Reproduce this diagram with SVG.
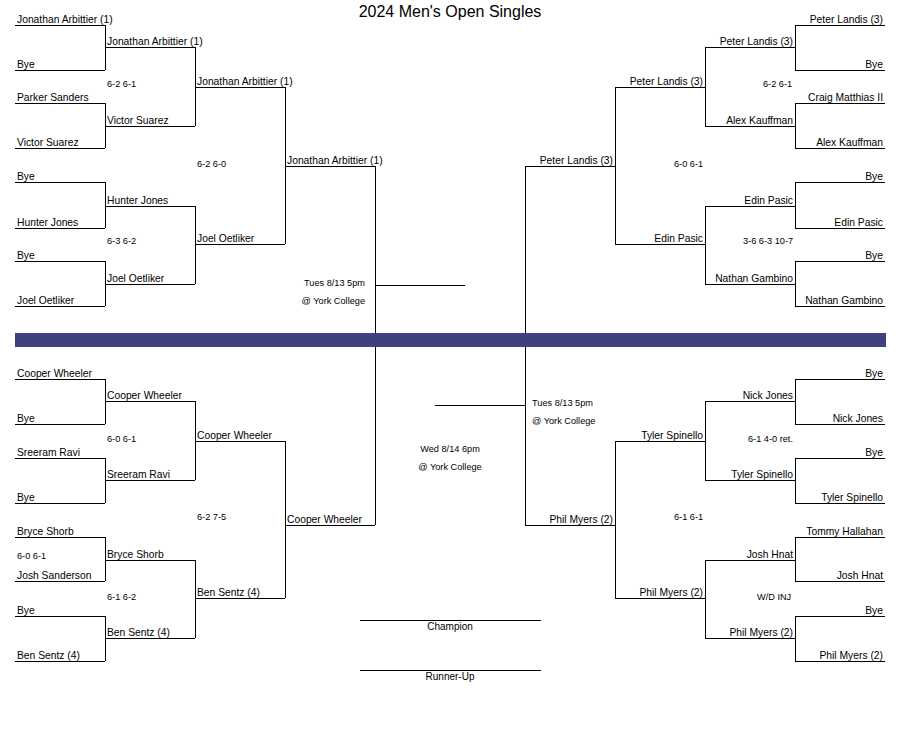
<svg xmlns="http://www.w3.org/2000/svg" width="900" height="750" viewBox="0 0 900 750">
<style>
  .bg{fill:#ffffff}
  .ln{stroke:#000;stroke-width:1;fill:none;shape-rendering:crispEdges}
  .nm{font-family:"Liberation Sans",Arial,sans-serif;font-size:10.3px;fill:#000}
  .r{text-anchor:end}
  .sc{font-family:"Liberation Sans",Arial,sans-serif;font-size:9.2px;fill:#000}
  .mid{text-anchor:middle}
  .title{font-family:"Liberation Sans",Arial,sans-serif;font-size:16px;fill:#000;text-anchor:middle}
  .band{fill:#404080}
</style>
<rect class="bg" x="0" y="0" width="900" height="750"/>
<text class="title" x="450" y="16.5">2024 Men's Open Singles</text>

<g id="connectors">
  <path class="ln" d="M105 25V70M105 103V148M105 182V228M105 261V306M105 379V424M105 458V503M105 537V581M105 616V661"/>
  <path class="ln" d="M195 47V126M195 206V284M195 401V480M195 560V638"/>
  <path class="ln" d="M285 87V244M285 441V598"/>
  <path class="ln" d="M375 166V525"/>
  <path class="ln" d="M795 25V70M795 103V148M795 182V228M795 261V306M795 379V424M795 458V503M795 537V581M795 616V661"/>
  <path class="ln" d="M705 47V126M705 206V284M705 401V480M705 560V638"/>
  <path class="ln" d="M615 87V244M615 441V598"/>
  <path class="ln" d="M525 166V525"/>
  <path class="ln" d="M375 285H465"/>
  <path class="ln" d="M435 405H525"/>
</g>

<!-- Left top -->
<g id="L1-1"><path class="ln" d="M15 25H105"/><text class="nm" x="17" y="22.5">Jonathan Arbittier (1)</text></g>
<g id="L1-2"><path class="ln" d="M15 70H105"/><text class="nm" x="17" y="67.5">Bye</text></g>
<g id="L1-3"><path class="ln" d="M15 103H105"/><text class="nm" x="17" y="100.5">Parker Sanders</text></g>
<g id="L1-4"><path class="ln" d="M15 148H105"/><text class="nm" x="17" y="145.5">Victor Suarez</text></g>
<g id="L1-5"><path class="ln" d="M15 182H105"/><text class="nm" x="17" y="179.5">Bye</text></g>
<g id="L1-6"><path class="ln" d="M15 228H105"/><text class="nm" x="17" y="225.5">Hunter Jones</text></g>
<g id="L1-7"><path class="ln" d="M15 261H105"/><text class="nm" x="17" y="258.5">Bye</text></g>
<g id="L1-8"><path class="ln" d="M15 306H105"/><text class="nm" x="17" y="303.5">Joel Oetliker</text></g>
<g id="L2-1"><path class="ln" d="M105 47H195"/><text class="nm" x="107" y="44.5">Jonathan Arbittier (1)</text></g>
<g id="L2-2"><path class="ln" d="M105 126H195"/><text class="nm" x="107" y="123.5">Victor Suarez</text></g>
<g id="L2-3"><path class="ln" d="M105 206H195"/><text class="nm" x="107" y="203.5">Hunter Jones</text></g>
<g id="L2-4"><path class="ln" d="M105 284H195"/><text class="nm" x="107" y="281.5">Joel Oetliker</text></g>
<g id="L3-1"><path class="ln" d="M195 87H285"/><text class="nm" x="197" y="84.5">Jonathan Arbittier (1)</text></g>
<g id="L3-2"><path class="ln" d="M195 244H285"/><text class="nm" x="197" y="241.5">Joel Oetliker</text></g>
<g id="L4-1"><path class="ln" d="M285 166H375"/><text class="nm" x="287" y="163.5">Jonathan Arbittier (1)</text></g>

<!-- Left bottom -->
<g id="L1-9"><path class="ln" d="M15 379H105"/><text class="nm" x="17" y="376.5">Cooper Wheeler</text></g>
<g id="L1-10"><path class="ln" d="M15 424H105"/><text class="nm" x="17" y="421.5">Bye</text></g>
<g id="L1-11"><path class="ln" d="M15 458H105"/><text class="nm" x="17" y="455.5">Sreeram Ravi</text></g>
<g id="L1-12"><path class="ln" d="M15 503H105"/><text class="nm" x="17" y="500.5">Bye</text></g>
<g id="L1-13"><path class="ln" d="M15 537H105"/><text class="nm" x="17" y="534.5">Bryce Shorb</text></g>
<g id="L1-14"><path class="ln" d="M15 581H105"/><text class="nm" x="17" y="578.5">Josh Sanderson</text></g>
<g id="L1-15"><path class="ln" d="M15 616H105"/><text class="nm" x="17" y="613.5">Bye</text></g>
<g id="L1-16"><path class="ln" d="M15 661H105"/><text class="nm" x="17" y="658.5">Ben Sentz (4)</text></g>
<g id="L2-5"><path class="ln" d="M105 401H195"/><text class="nm" x="107" y="398.5">Cooper Wheeler</text></g>
<g id="L2-6"><path class="ln" d="M105 480H195"/><text class="nm" x="107" y="477.5">Sreeram Ravi</text></g>
<g id="L2-7"><path class="ln" d="M105 560H195"/><text class="nm" x="107" y="557.5">Bryce Shorb</text></g>
<g id="L2-8"><path class="ln" d="M105 638H195"/><text class="nm" x="107" y="635.5">Ben Sentz (4)</text></g>
<g id="L3-3"><path class="ln" d="M195 441H285"/><text class="nm" x="197" y="438.5">Cooper Wheeler</text></g>
<g id="L3-4"><path class="ln" d="M195 598H285"/><text class="nm" x="197" y="595.5">Ben Sentz (4)</text></g>
<g id="L4-2"><path class="ln" d="M285 525H375"/><text class="nm" x="287" y="522.5">Cooper Wheeler</text></g>

<!-- Right top -->
<g id="R1-1"><path class="ln" d="M795 25H885"/><text class="nm r" x="883" y="22.5">Peter Landis (3)</text></g>
<g id="R1-2"><path class="ln" d="M795 70H885"/><text class="nm r" x="883" y="67.5">Bye</text></g>
<g id="R1-3"><path class="ln" d="M795 103H885"/><text class="nm r" x="883" y="100.5">Craig Matthias II</text></g>
<g id="R1-4"><path class="ln" d="M795 148H885"/><text class="nm r" x="883" y="145.5">Alex Kauffman</text></g>
<g id="R1-5"><path class="ln" d="M795 182H885"/><text class="nm r" x="883" y="179.5">Bye</text></g>
<g id="R1-6"><path class="ln" d="M795 228H885"/><text class="nm r" x="883" y="225.5">Edin Pasic</text></g>
<g id="R1-7"><path class="ln" d="M795 261H885"/><text class="nm r" x="883" y="258.5">Bye</text></g>
<g id="R1-8"><path class="ln" d="M795 306H885"/><text class="nm r" x="883" y="303.5">Nathan Gambino</text></g>
<g id="R2-1"><path class="ln" d="M705 47H795"/><text class="nm r" x="793" y="44.5">Peter Landis (3)</text></g>
<g id="R2-2"><path class="ln" d="M705 126H795"/><text class="nm r" x="793" y="123.5">Alex Kauffman</text></g>
<g id="R2-3"><path class="ln" d="M705 206H795"/><text class="nm r" x="793" y="203.5">Edin Pasic</text></g>
<g id="R2-4"><path class="ln" d="M705 284H795"/><text class="nm r" x="793" y="281.5">Nathan Gambino</text></g>
<g id="R3-1"><path class="ln" d="M615 87H705"/><text class="nm r" x="703" y="84.5">Peter Landis (3)</text></g>
<g id="R3-2"><path class="ln" d="M615 244H705"/><text class="nm r" x="703" y="241.5">Edin Pasic</text></g>
<g id="R4-1"><path class="ln" d="M525 166H615"/><text class="nm r" x="613" y="163.5">Peter Landis (3)</text></g>

<!-- Right bottom -->
<g id="R1-9"><path class="ln" d="M795 379H885"/><text class="nm r" x="883" y="376.5">Bye</text></g>
<g id="R1-10"><path class="ln" d="M795 424H885"/><text class="nm r" x="883" y="421.5">Nick Jones</text></g>
<g id="R1-11"><path class="ln" d="M795 458H885"/><text class="nm r" x="883" y="455.5">Bye</text></g>
<g id="R1-12"><path class="ln" d="M795 503H885"/><text class="nm r" x="883" y="500.5">Tyler Spinello</text></g>
<g id="R1-13"><path class="ln" d="M795 537H885"/><text class="nm r" x="883" y="534.5">Tommy Hallahan</text></g>
<g id="R1-14"><path class="ln" d="M795 581H885"/><text class="nm r" x="883" y="578.5">Josh Hnat</text></g>
<g id="R1-15"><path class="ln" d="M795 616H885"/><text class="nm r" x="883" y="613.5">Bye</text></g>
<g id="R1-16"><path class="ln" d="M795 661H885"/><text class="nm r" x="883" y="658.5">Phil Myers (2)</text></g>
<g id="R2-5"><path class="ln" d="M705 401H795"/><text class="nm r" x="793" y="398.5">Nick Jones</text></g>
<g id="R2-6"><path class="ln" d="M705 480H795"/><text class="nm r" x="793" y="477.5">Tyler Spinello</text></g>
<g id="R2-7"><path class="ln" d="M705 560H795"/><text class="nm r" x="793" y="557.5">Josh Hnat</text></g>
<g id="R2-8"><path class="ln" d="M705 638H795"/><text class="nm r" x="793" y="635.5">Phil Myers (2)</text></g>
<g id="R3-3"><path class="ln" d="M615 441H705"/><text class="nm r" x="703" y="438.5">Tyler Spinello</text></g>
<g id="R3-4"><path class="ln" d="M615 598H705"/><text class="nm r" x="703" y="595.5">Phil Myers (2)</text></g>
<g id="R4-2"><path class="ln" d="M525 525H615"/><text class="nm r" x="613" y="522.5">Phil Myers (2)</text></g>

<!-- Scores -->
<g id="scores">
  <text class="sc" x="107" y="87">6-2 6-1</text>
  <text class="sc" x="197" y="166.5">6-2 6-0</text>
  <text class="sc" x="107" y="243.5">6-3 6-2</text>
  <text class="sc" x="107" y="441.5">6-0 6-1</text>
  <text class="sc" x="197" y="519.5">6-2 7-5</text>
  <text class="sc" x="17" y="558.5">6-0 6-1</text>
  <text class="sc" x="107" y="600">6-1 6-2</text>
  <text class="sc" x="763" y="87">6-2 6-1</text>
  <text class="sc" x="674" y="166.5">6-0 6-1</text>
  <text class="sc" x="743" y="243.5">3-6 6-3 10-7</text>
  <text class="sc" x="748" y="441.5">6-1 4-0 ret.</text>
  <text class="sc" x="674" y="520">6-1 6-1</text>
  <text class="sc" x="757" y="599.5">W/D INJ</text>
</g>

<!-- Schedule -->
<g id="schedule-left">
  <text class="sc r" x="365" y="286">Tues 8/13 5pm</text>
  <text class="sc r" x="365" y="304">@ York College</text>
</g>
<g id="schedule-right">
  <text class="sc" x="532" y="406">Tues 8/13 5pm</text>
  <text class="sc" x="532" y="424">@ York College</text>
</g>
<g id="schedule-final">
  <text class="sc mid" x="450" y="451.5">Wed 8/14 6pm</text>
  <text class="sc mid" x="450" y="469.5">@ York College</text>
</g>

<rect id="divider" class="band" x="15" y="333" width="871" height="14"/>

<g id="champion"><path class="ln" d="M360 620H541"/><text class="nm mid" x="450" y="630" style="font-size:10px">Champion</text></g>
<g id="runner-up"><path class="ln" d="M360 670H541"/><text class="nm mid" x="450" y="680" style="font-size:10px">Runner-Up</text></g>
</svg>
